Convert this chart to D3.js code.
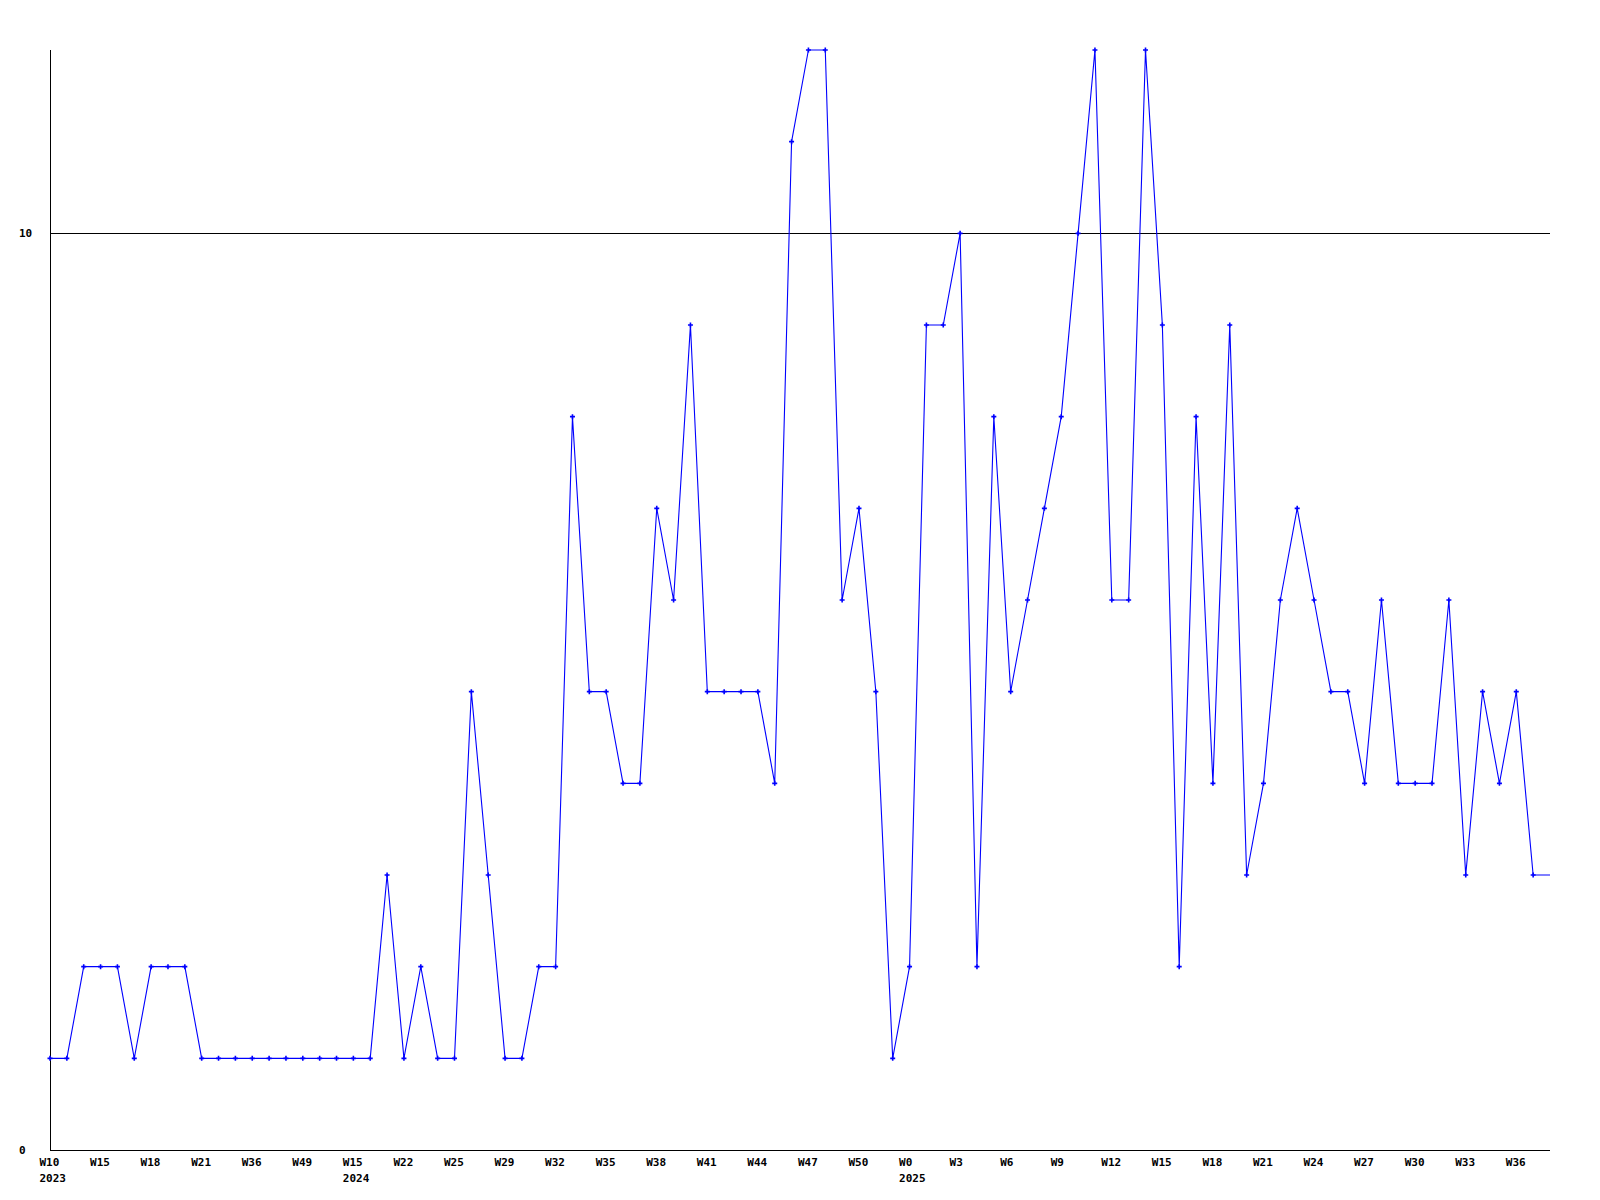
<!DOCTYPE html>
<html><head><meta charset="utf-8">
<script src="https://cdn.jsdelivr.net/npm/d3@7"></script>
<style>body{margin:0;background:#fff}svg{display:block}text{font-family:"DejaVu Sans Mono",monospace;font-weight:bold;font-size:11px;fill:#000}</style>
</head><body><svg id="c" width="1600" height="1200"></svg>
<script>
const weeks = ["W10","W12","W13","W15","W16","W17","W18","W19","W20","W21","W25","W30","W36","W40","W45","W49","W51","W8",
"W15","W19","W21","W22","W23","W24","W25","W26","W28","W29","W30","W31","W32","W33","W34","W35","W36","W37","W38","W39","W40","W41","W42","W43","W44","W45","W46","W47","W48","W49","W50","W51","W52",
"W0","W1","W2","W3","W4","W5","W6","W7","W8","W9","W10","W11","W12","W13","W14","W15","W16","W17","W18","W19","W20","W21","W22","W23","W24","W25","W26","W27","W28","W29","W30","W31","W32","W33","W34","W35","W36","W37","W38"];
const yearLabels = [{index:0,label:"2023"},{index:18,label:"2024"},{index:51,label:"2025"}];
const values = [1,1,2,2,2,1,2,2,2,1,1,1,1,1,1,1,1,1,1,1,3,1,2,1,1,5,3,1,1,2,2,8,5,5,4,4,7,6,9,5,5,5,5,4,11,12,12,6,7,5,1,2,9,9,10,2,8,5,6,7,8,10,12,6,6,12,9,2,8,4,9,3,4,6,7,6,5,5,4,6,4,4,4,6,3,5,4,5,3,3];
const yTicks = [0,10];
const labelEvery = 3;

const svg = d3.select("#c");
const x = d3.scaleLinear().domain([0, values.length-1]).range([50,1550]);
const y = d3.scaleLinear().domain([0,12]).range([1150,50]);

// gridline at 10
svg.selectAll("line.grid").data(yTicks.filter(d=>d>0)).enter().append("line")
  .attr("x1",50).attr("x2",1550).attr("y1",d=>Math.round(y(d))+0.5).attr("y2",d=>Math.round(y(d))+0.5)
  .attr("stroke","#000").attr("stroke-width",1).attr("shape-rendering","crispEdges");
// axes
svg.append("line").attr("x1",50.5).attr("x2",50.5).attr("y1",50).attr("y2",1150.5).attr("stroke","#000").attr("shape-rendering","crispEdges");
svg.append("line").attr("x1",50).attr("x2",1550).attr("y1",1150.5).attr("y2",1150.5).attr("stroke","#000").attr("shape-rendering","crispEdges");
// y labels
svg.selectAll("text.yl").data(yTicks).enter().append("text")
  .attr("x",19).attr("y",d=>Math.round(y(d))+4).text(d=>d);
// x labels
const tickIdx = d3.range(0, values.length, labelEvery).filter(i=>i<values.length-2);
svg.selectAll("text.xl").data(tickIdx).enter().append("text")
  .attr("x",d=>x(d)-10.5).attr("y",1166).text(d=>weeks[d]);
svg.selectAll("text.yr").data(yearLabels).enter().append("text")
  .attr("x",d=>x(d.index)-10.5).attr("y",1182).text(d=>d.label);

// line
const line = d3.line().x((d,i)=>x(i)).y(d=>y(d));
svg.append("path").datum(values).attr("d",line).attr("fill","none").attr("stroke","#0000ff").attr("stroke-width",1.1);
// markers
const pts = values.map((v,i)=>({v,i})).filter(d=>d.i<values.length-1);
const m = svg.append("g").attr("stroke","#0000ff").attr("stroke-width",1.6);
m.selectAll("path").data(pts).enter().append("path")
  .attr("d",d=>{const cx=x(d.i), cy=y(d.v); return `M${cx-2.5},${cy}H${cx+2.5}M${cx},${cy-2.5}V${cy+2.5}`;});
</script></body></html>
